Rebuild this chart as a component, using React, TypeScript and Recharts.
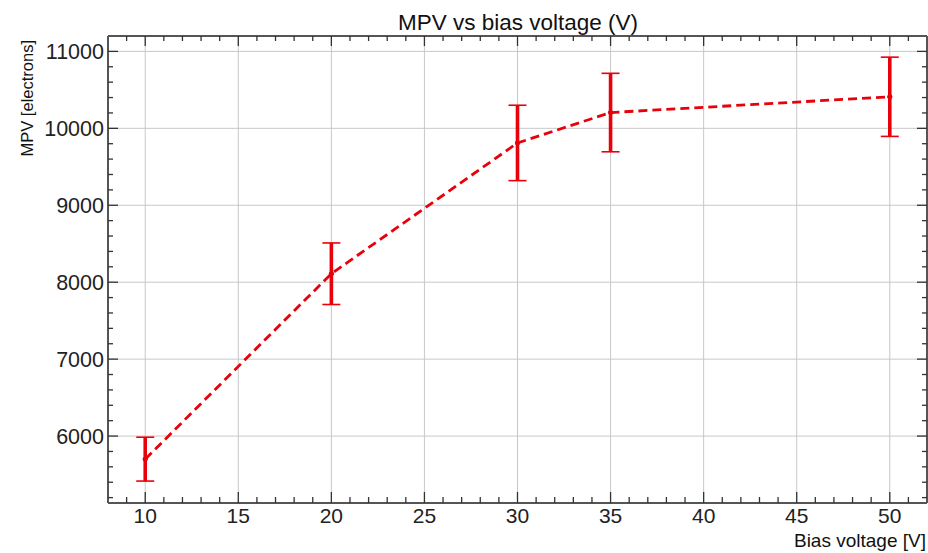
import { LineChart, Line, XAxis, YAxis, ErrorBar, CartesianGrid } from "recharts";

// MPV measured at each bias voltage, with its uncertainty
const biasVoltage = [10, 20, 30, 35, 50];
const mpv = [5700, 8110, 9810, 10205, 10410];
const mpvError = [285, 400, 490, 510, 515];

const xMajorTicks = [10, 15, 20, 25, 30, 35, 40, 45, 50];
const yMajorTicks = [6000, 7000, 8000, 9000, 10000, 11000];
const xDomain: [number, number] = [8, 52];
const yDomain: [number, number] = [5130, 11200];

const WIDTH = 928;
const HEIGHT = 553;
const RED = "#e8000b";
const FONT = "'Liberation Sans', Arial, sans-serif";
const frame = { stroke: "#555", strokeWidth: 2 };

const data = biasVoltage.map((v, i) => ({ v, mpv: mpv[i], err: mpvError[i] }));

// minor ticks every 1 V and every 200 electrons, inside the frame
const xTicks: number[] = [];
for (let v = xDomain[0] + 1; v < xDomain[1]; v++) xTicks.push(v);
const yTicks: number[] = [];
for (let v = 5200; v <= 11000; v += 200) yTicks.push(v);

const isMajorX = (v: number) => xMajorTicks.includes(v);
const isMajorY = (v: number) => yMajorTicks.includes(v);

function BottomTick(props: any) {
  const { x, y, payload } = props;
  const major = isMajorX(payload.value);
  return (
    <g>
      <line x1={x} x2={x} y1={y} y2={y - (major ? 11 : 6)} stroke="#333" strokeWidth={1.3} />
      {major && (
        <text x={x} y={y + 20} textAnchor="middle" fontSize={21} fontFamily={FONT} fill="#222">
          {payload.value}
        </text>
      )}
    </g>
  );
}

function TopTick(props: any) {
  const { x, y, payload } = props;
  const major = isMajorX(payload.value);
  return <line x1={x} x2={x} y1={y} y2={y + (major ? 10 : 5)} stroke="#333" strokeWidth={1.3} />;
}

function LeftTick(props: any) {
  const { x, y, payload } = props;
  const major = isMajorY(payload.value);
  return (
    <g>
      <line x1={x} x2={x + (major ? 10 : 5)} y1={y} y2={y} stroke="#333" strokeWidth={1.3} />
      {major && (
        <text x={x - 4} y={y + 7.5} textAnchor="end" fontSize={21.5} fontFamily={FONT} fill="#222">
          {payload.value}
        </text>
      )}
    </g>
  );
}

function RightTick(props: any) {
  const { x, y, payload } = props;
  const major = isMajorY(payload.value);
  return <line x1={x} x2={x - (major ? 10 : 5)} y1={y} y2={y} stroke="#333" strokeWidth={1.3} />;
}

export default function App() {
  return (
    <div style={{ position: "absolute", left: 0, top: 0, width: WIDTH, height: HEIGHT, background: "#fff" }}>
      <LineChart width={WIDTH} height={HEIGHT} data={data} margin={{ top: 35, right: 0, bottom: 49, left: 107 }}>
        <CartesianGrid
          stroke="#c8c8c8"
          strokeWidth={1}
          horizontalValues={yMajorTicks}
          verticalValues={xMajorTicks}
        />
        <XAxis
          type="number"
          dataKey="v"
          domain={xDomain}
          allowDataOverflow
          ticks={xTicks}
          interval={0}
          height={1}
          tickSize={0}
          tickMargin={0}
          tickLine={false}
          axisLine={frame}
          tick={BottomTick}
        />
        <XAxis
          xAxisId="top"
          orientation="top"
          type="number"
          dataKey="v"
          domain={xDomain}
          allowDataOverflow
          ticks={xTicks}
          interval={0}
          height={1}
          tickSize={0}
          tickMargin={0}
          tickLine={false}
          axisLine={frame}
          tick={TopTick}
        />
        <YAxis
          type="number"
          domain={yDomain}
          allowDataOverflow
          ticks={yTicks}
          interval={0}
          width={1}
          tickSize={0}
          tickMargin={0}
          tickLine={false}
          axisLine={frame}
          tick={LeftTick}
        />
        <YAxis
          yAxisId="right"
          orientation="right"
          type="number"
          domain={yDomain}
          allowDataOverflow
          ticks={yTicks}
          interval={0}
          width={1}
          tickSize={0}
          tickMargin={0}
          tickLine={false}
          axisLine={frame}
          tick={RightTick}
        />
        <Line
          dataKey="mpv"
          stroke={RED}
          strokeWidth={2.8}
          strokeDasharray="9 5"
          dot={{ r: 2.2, fill: RED, stroke: RED, strokeWidth: 1, strokeDasharray: "" }}
          activeDot={false}
          isAnimationActive={false}
        >
          <ErrorBar dataKey="err" direction="y" width={0} stroke={RED} strokeWidth={3.6} isAnimationActive={false} />
          <ErrorBar dataKey="err" direction="y" width={9} stroke={RED} strokeWidth={1.6} isAnimationActive={false} />
        </Line>
      </LineChart>
      <svg
        width={WIDTH}
        height={HEIGHT}
        style={{ position: "absolute", left: 0, top: 0, pointerEvents: "none" }}
        fontFamily={FONT}
      >
        <text x={518} y={30} textAnchor="middle" fontSize={22.5} fill="#111">
          MPV vs bias voltage (V)
        </text>
        <text x={33} y={40} transform="rotate(-90 33 40)" textAnchor="end" fontSize={16.5} fill="#111">
          MPV [electrons]
        </text>
        <text x={926} y={547} textAnchor="end" fontSize={19} fill="#111">
          Bias voltage [V]
        </text>
      </svg>
    </div>
  );
}
